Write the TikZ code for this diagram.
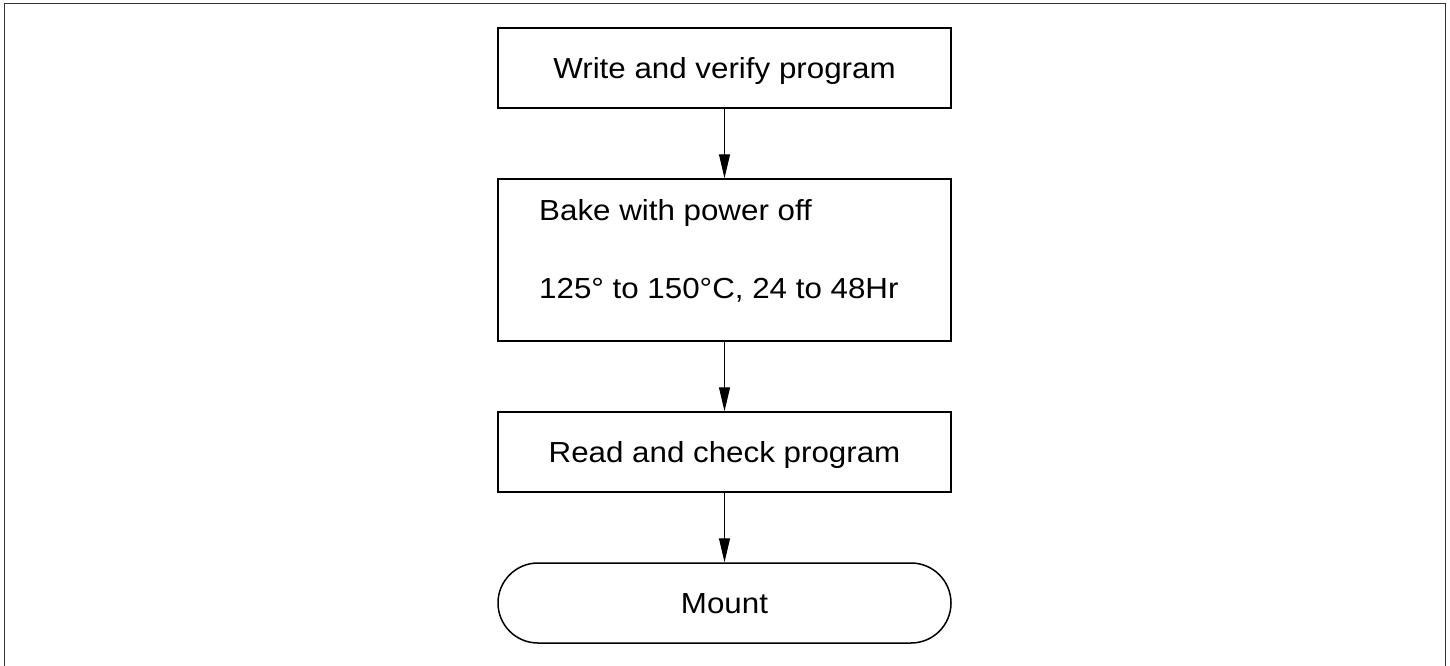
\documentclass[tikz,border=0pt]{standalone}
\usepackage{fontspec}
\setmainfont{Liberation Sans}[FakeStretch=1.08]
\usetikzlibrary{arrows.meta}
\tikzset{
  stepbox/.style={draw=black, line width=1.5pt, minimum width=453pt, inner sep=0pt, text height=20.5pt, text depth=0pt},
  termbox/.style={draw=black, line width=1.5pt, minimum width=453pt, minimum height=80pt, rounded corners=40pt, inner sep=0pt, text height=20.5pt, text depth=0pt},
  flow/.style={draw=black, line width=1pt, -{Triangle[length=24pt,width=11pt]}},
  lbl/.style={anchor=base west, inner sep=0pt}
}
\begin{document}
\begin{tikzpicture}[x=1pt,y=-1pt,font=\fontsize{29}{34}\selectfont]
\useasboundingbox (0,0) rectangle (1450,666);
\draw[line width=1.2pt, draw=black!80] (4.5,700) -- (4.5,3.5) -- (1445.5,3.5) -- (1445.5,700);
\node[stepbox, minimum height=80pt] (write) at (724.5,68) {Write and verify program};
\node[stepbox, minimum height=162pt] (bake) at (724.5,260) {};
\node[lbl] (bake1) at (539,220) {Bake with power off};
\node[lbl] (bake2) at (539,298) {125° to 150°C, 24 to 48Hr};
\node[stepbox, minimum height=80pt] (read) at (724.5,452) {Read and check program};
\node[termbox] (mount) at (724.5,603) {Mount};
\draw[flow] (write.south) -- (bake.north);
\draw[flow] (bake.south) -- (read.north);
\draw[flow] (read.south) -- (mount.north);
\end{tikzpicture}
\end{document}
